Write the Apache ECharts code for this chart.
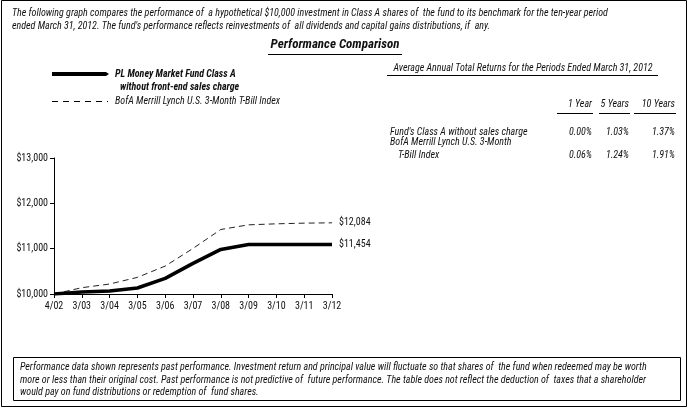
<!DOCTYPE html>
<html><head><meta charset="utf-8">
<script src="https://cdn.jsdelivr.net/npm/echarts@6/dist/echarts.min.js"></script>
<style>html,body{margin:0;padding:0;background:#fff}#c{width:690px;height:412px}</style>
</head><body><div id="c"></div>
<script>
const categories = ['4/02','3/03','3/04','3/05','3/06','3/07','3/08','3/09','3/10','3/11','3/12'];
const fundValues = [10000,10044,10066,10132,10345,10675,10983,11093,11093,11093,11093];
const indexValues = [10000,10139,10220,10367,10616,11005,11423,11526,11548,11563,11570];
const endLabels = ['$11,454','$12,084'];
const tableHeaders = ['1 Year','5 Years','10 Years'];
const fundReturns = ['0.00%','1.03%','1.37%'];
const indexReturns = ['0.06%','1.24%','1.91%'];

const F = "'Roboto Condensed','Liberation Sans Narrow','Arial Narrow',sans-serif";
const txt = (x,y,t,o={}) => ({type:'text',x:x,y:y,style:Object.assign({text:t,fontFamily:F,fontSize:10,fontStyle:'italic',fill:'#111',textVerticalAlign:'middle'},o)});
const line = (x1,y1,x2,y2,w,dash) => ({type:'line',shape:{x1,y1,x2,y2},style:{stroke:'#000',lineWidth:w,lineDash:dash||null}});

const chart = echarts.init(document.getElementById('c'),null,{renderer:'canvas'});
const colX = [592,629,675];
const ulStart = [557,599,634];
const g = [
  {type:'rect',shape:{x:1.5,y:0.5,width:685,height:406},style:{fill:'none',stroke:'#000',lineWidth:1}},
  {type:'rect',shape:{x:13.5,y:357.5,width:667,height:43},style:{fill:'none',stroke:'#000',lineWidth:1}},
  txt(12,13,"The following graph compares the performance of  a hypothetical $10,000 investment in Class A shares of  the fund to its benchmark for the ten-year period"),
  txt(12,26,"ended March 31, 2012. The fund's performance reflects reinvestments of  all dividends and capital gains distributions, if  any."),
  txt(335,45,'Performance Comparison',{fontSize:13,fontWeight:'bold',textAlign:'center'}),
  line(268,54.5,402,54.5,1),
  {type:'polygon',shape:{points:[[52,72],[106,72],[109,74],[106,76],[52,76]]},style:{fill:'#000'}},
  txt(115,74,'PL Money Market Fund Class A',{fontWeight:'bold'}),
  txt(120,87,'without front-end sales charge',{fontWeight:'bold'}),
  line(52,101.5,108,101.5,1,[6,5]),
  txt(115,101,'BofA Merrill Lynch U.S. 3-Month T-Bill Index'),
  txt(523,68,'Average Annual Total Returns for the Periods Ended March 31, 2012',{textAlign:'center'}),
  line(387,75.5,658,75.5,1),
  txt(390,132,"Fund's Class A without sales charge"),
  txt(390,142,'BofA Merrill Lynch U.S. 3-Month'),
  txt(398,155,'T-Bill Index'),
  txt(20,367,'Performance data shown represents past performance. Investment return and principal value will fluctuate so that shares of  the fund when redeemed may be worth'),
  txt(20,380,'more or less than their original cost. Past performance is not predictive of  future performance. The table does not reflect the deduction of  taxes that a shareholder'),
  txt(20,392,'would pay on fund distributions or redemption of  fund shares.')
];
tableHeaders.forEach((h,i)=>{
  g.push(txt(colX[i],104,h,{textAlign:'right'}));
  g.push(line(ulStart[i],113.5,colX[i]+1,113.5,1));
  g.push(txt(colX[i],132,fundReturns[i],{textAlign:'right'}));
  g.push(txt(colX[i],155,indexReturns[i],{textAlign:'right'}));
});

chart.setOption({
  animation:false,
  grid:{left:54,right:358,top:158,bottom:118,containLabel:false},
  xAxis:{type:'category',data:categories,boundaryGap:false,
    axisLine:{lineStyle:{color:'#000',width:1}},
    axisTick:{show:true,alignWithLabel:true,length:4,lineStyle:{color:'#000'},interval:0},
    axisLabel:{color:'#111',fontFamily:F,fontSize:10,margin:7,interval:0},
    splitLine:{show:false}},
  yAxis:{type:'value',min:10000,max:13000,interval:1000,
    axisLine:{show:true,lineStyle:{color:'#000',width:1}},
    axisTick:{show:true,length:4,lineStyle:{color:'#000'}},
    axisLabel:{color:'#111',fontFamily:F,fontSize:10,margin:6,
      formatter:v=>'$'+v.toLocaleString('en-US')},
    splitLine:{show:false}},
  series:[
    {type:'line',data:fundValues,symbol:'none',lineStyle:{color:'#000',width:3.5},z:3,
      endLabel:{show:true,formatter:()=>endLabels[0],color:'#111',fontFamily:F,fontSize:10,distance:7}},
    {type:'line',data:indexValues,symbol:'none',lineStyle:{color:'#222',width:1,type:[6,4]},z:2,
      endLabel:{show:true,formatter:()=>endLabels[1],color:'#111',fontFamily:F,fontSize:10,distance:7}}
  ],
  graphic:g
});
</script></body></html>
